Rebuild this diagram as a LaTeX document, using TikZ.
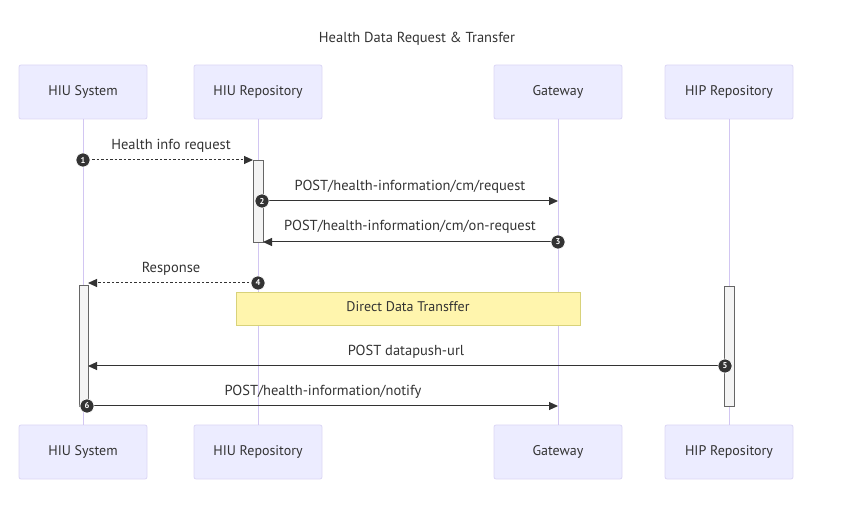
\documentclass[tikz,border=0pt]{standalone}
\usepackage{fontspec}
\setmainfont{PT Sans}
\usetikzlibrary{arrows.meta}
\definecolor{actfill}{HTML}{ECECFF}
\definecolor{actdraw}{HTML}{DCD6F5}
\definecolor{lifec}{HTML}{D2C6F2}
\definecolor{msgc}{HTML}{333333}
\definecolor{txtc}{HTML}{333333}
\definecolor{notefill}{HTML}{FFF5AD}
\definecolor{notedraw}{HTML}{D8D27A}
\definecolor{actvfill}{HTML}{F4F4F4}
\definecolor{actvdraw}{HTML}{666666}
\tikzset{
  actor/.style={draw=actdraw, fill=actfill, rounded corners=2pt, minimum width=128pt, minimum height=54pt, font=\fontsize{14}{16}\selectfont, text=txtc, line width=0.8pt, text height=8pt, text depth=1pt},
  lifeline/.style={draw=lifec, line width=1pt},
  msg/.style={draw=msgc, line width=1pt, -{Triangle[length=9pt,width=8pt]}},
  rmsg/.style={msg, dash pattern=on 2.5pt off 2pt},
  lbl/.style={font=\fontsize{14.5}{17}\selectfont, text=txtc},
  num/.style={circle, fill=msgc, draw=white, line width=0.6pt, inner sep=0pt, minimum size=14pt, text=white, font=\fontsize{8.5}{9}\selectfont\bfseries},
  activ/.style={draw=actvdraw, fill=actvfill, line width=0.6pt},
  notebox/.style={draw=notedraw, fill=notefill, minimum width=344pt, minimum height=33pt, font=\fontsize{14}{16}\selectfont, text=txtc, line width=0.8pt, text height=8pt, text depth=1pt}
}
\begin{document}
\begin{tikzpicture}[x=1pt,y=-1pt]
\useasboundingbox (0,0) rectangle (857,510);
\node[lbl] (title) at (417,39) {Health Data Request \& Transfer};
% actors top
\node[actor] (a1) at (83,92) {HIU System};
\node[actor] (a2) at (258,92) {HIU Repository};
\node[actor] (a3) at (558,92) {Gateway};
\node[actor] (a4) at (729,92) {HIP Repository};
% actors bottom
\node[actor] (b1) at (83,452) {HIU System};
\node[actor] (b2) at (258,452) {HIU Repository};
\node[actor] (b3) at (558,452) {Gateway};
\node[actor] (b4) at (729,452) {HIP Repository};
% lifelines
\draw[lifeline] (a1) -- (b1);
\draw[lifeline] (a2) -- (b2);
\draw[lifeline] (a3) -- (b3);
\draw[lifeline] (a4) -- (b4);
% activations
\draw[activ] (253,160) rectangle (263,242);
\draw[activ] (79,285) rectangle (88,406);
\draw[activ] (724,286) rectangle (734,406);
% note
\node[notebox] (note) at (408,308.5) {Direct Data Transffer};
% message coordinates
\coordinate (m1s) at (83,160); \coordinate (m1e) at (253,160);
\coordinate (m2s) at (263,201); \coordinate (m2e) at (558,201);
\coordinate (m3s) at (558,242); \coordinate (m3e) at (263,242);
\coordinate (m4s) at (258,283); \coordinate (m4e) at (88,283);
\coordinate (m5s) at (724,366); \coordinate (m5e) at (88,366);
\coordinate (m6s) at (88,406); \coordinate (m6e) at (558,406);
% messages
\draw[rmsg] (m1s) -- (m1e);
\draw[msg] (m2s) -- (m2e);
\draw[msg] (m3s) -- (m3e);
\draw[rmsg] (m4s) -- (m4e);
\draw[msg] (m5s) -- (m5e);
\draw[msg] (m6s) -- (m6e);
% labels
\node[lbl] (l1) at (171,146) {Health info request};
\node[lbl] (l2) at (410,187) {POST/health-information/cm/request};
\node[lbl] (l3) at (410,227) {POST/health-information/cm/on-request};
\node[lbl] (l4) at (171,269) {Response};
\node[lbl] (l5) at (406,352) {POST datapush-url};
\node[lbl] (l6) at (323,392) {POST/health-information/notify};
% numbers
\node[num] (n1) at (83,160) {1};
\node[num] (n2) at (262,201) {2};
\node[num] (n3) at (558,242) {3};
\node[num] (n4) at (258,283) {4};
\node[num] (n5) at (725,366) {5};
\node[num] (n6) at (87,406) {6};
\end{tikzpicture}
\end{document}
